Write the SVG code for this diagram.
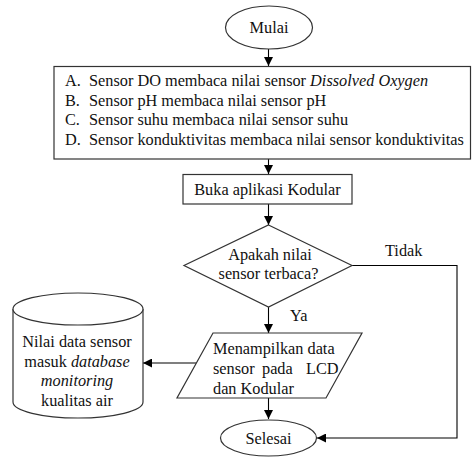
<svg xmlns="http://www.w3.org/2000/svg" width="474" height="457" viewBox="0 0 474 457" font-family="'Liberation Serif', 'DejaVu Serif', serif">
<defs>
<style>
.shape{fill:#fff;stroke:#333;stroke-width:1.2}
.conn{fill:none;stroke:#000;stroke-width:1.1}
.t{font-family:'Liberation Serif','DejaVu Serif',serif;font-size:16.3px;fill:#111}
.c{text-anchor:middle}
.i{font-style:italic}
</style>
<marker id="ah" markerUnits="userSpaceOnUse" markerWidth="9" markerHeight="9" refX="9" refY="4.5" orient="auto">
<path d="M0,0 L9,4.5 L0,9 z" fill="#000"/>
</marker>
</defs>
<rect width="474" height="457" fill="#fff"/>
<g id="connectors">
<line class="conn" x1="268.5" y1="49" x2="268.5" y2="66" marker-end="url(#ah)"/>
<line class="conn" x1="268.5" y1="159" x2="268.5" y2="174" marker-end="url(#ah)"/>
<line class="conn" x1="268.5" y1="204" x2="268.5" y2="225" marker-end="url(#ah)"/>
<line class="conn" x1="268.5" y1="307" x2="268.5" y2="333" marker-end="url(#ah)"/>
<line class="conn" x1="268.5" y1="398" x2="268.5" y2="419" marker-end="url(#ah)"/>
<line class="conn" x1="196.5" y1="363" x2="143" y2="363" marker-end="url(#ah)"/>
<polyline class="conn" points="352,265.5 457,265.5 457,438 317,438" marker-end="url(#ah)"/>
<text class="t" x="385" y="256">Tidak</text>
<text class="t" x="290" y="321">Ya</text>
</g>
<g id="mulai">
<ellipse class="shape" cx="269" cy="27.5" rx="43.5" ry="21.5"/>
<text class="t c" x="269" y="33">Mulai</text>
</g>
<g id="sensors">
<rect class="shape" x="54" y="66.5" width="416.5" height="92.5"/>
<text class="t" x="65" y="86">A.</text><text class="t" x="89" y="86">Sensor DO membaca nilai sensor <tspan class="i">Dissolved Oxygen</tspan></text>
<text class="t" x="65" y="105.5">B.</text><text class="t" x="89" y="105.5">Sensor pH membaca nilai sensor pH</text>
<text class="t" x="65" y="125">C.</text><text class="t" x="89" y="125">Sensor suhu membaca nilai sensor suhu</text>
<text class="t" x="65" y="144.5">D.</text><text class="t" x="89" y="144.5">Sensor konduktivitas membaca nilai sensor konduktivitas</text>
</g>
<g id="buka">
<rect class="shape" x="183" y="174.5" width="169" height="29.5"/>
<text class="t c" x="267.5" y="194.5">Buka aplikasi Kodular</text>
</g>
<g id="decision">
<polygon class="shape" points="268.5,225 352,265.5 268.5,307 184,265.5"/>
<text class="t c" x="270" y="259.5">Apakah nilai</text>
<text class="t c" x="268.5" y="279">sensor terbaca?</text>
</g>
<g id="tampil">
<polygon class="shape" points="213,333 362,333 326,398 177,398"/>
<text class="t" x="213" y="354">Menampilkan data</text>
<text class="t" y="374"><tspan x="213">sensor</tspan><tspan x="262">pada</tspan><tspan x="306">LCD</tspan></text>
<text class="t" x="213" y="393.5">dan Kodular</text>
</g>
<g id="database">
<path class="shape" d="M13,309 L13,402 A65,16 0 0 0 143,402 L143,309"/>
<ellipse class="shape" cx="78" cy="309" rx="65" ry="16"/>
<text class="t c" x="77" y="347">Nilai data sensor</text>
<text class="t c" x="77" y="366.5">masuk <tspan class="i">database</tspan></text>
<text class="t c i" x="77" y="386">monitoring</text>
<text class="t c" x="77" y="405.5">kualitas air</text>
</g>
<g id="selesai">
<ellipse class="shape" cx="268.5" cy="438" rx="48" ry="18"/>
<text class="t c" x="268.5" y="443.5">Selesai</text>
</g>
</svg>
